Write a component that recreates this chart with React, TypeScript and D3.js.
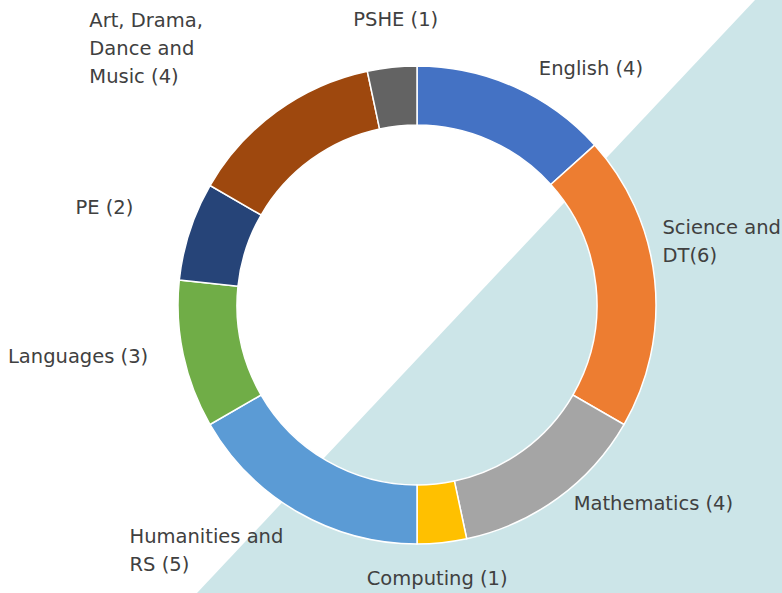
import React from "react";
import * as d3 from "d3";

const subjects = [
  "English",
  "Science and DT",
  "Mathematics",
  "Computing",
  "Humanities and RS",
  "Languages",
  "PE",
  "Art, Drama, Dance and Music",
  "PSHE",
];
const counts = [4, 6, 4, 1, 5, 3, 2, 4, 1];
const labelLines = [
  ["English (4)"],
  ["Science and", "DT(6)"],
  ["Mathematics (4)"],
  ["Computing (1)"],
  ["Humanities and", "RS (5)"],
  ["Languages (3)"],
  ["PE (2)"],
  ["Art, Drama,", "Dance and", "Music (4)"],
  ["PSHE (1)"],
];
const colors = [
  "#4472C4",
  "#ED7D31",
  "#A5A5A5",
  "#FFC000",
  "#5B9BD5",
  "#70AD47",
  "#264478",
  "#9E480E",
  "#636363",
];
// nudges from the arc-based label anchor to the left edge / vertical centre of each text block
const labelNudges: [number, number][] = [
  [10, 15],
  [-28, -35],
  [-5, -24],
  [-79, 0],
  [-150, 7],
  [-140, -6],
  [-80, -13],
  [-166, -34],
  [-35, -12],
];

const W = 782;
const H = 593;
const cx = 417;
const cy = 305;
const outerR = 239;
const innerR = 180;
const labelR = 275;
const lineH = 28;

export default function App() {
  const pie = d3
    .pie<number>()
    .sort(null)
    .value((d) => d)
    .startAngle(0)
    .endAngle(2 * Math.PI);
  const arcs = pie(counts);
  const arc = d3.arc<d3.PieArcDatum<number>>().innerRadius(innerR).outerRadius(outerR);

  return (
    <svg
      width={W}
      height={H}
      style={{ position: "absolute", left: 0, top: 0, background: "#ffffff" }}
    >
      <polygon points={`755,0 ${W},0 ${W},${H} 197,${H}`} fill="#cce5e8" />
      <g transform={`translate(${cx},${cy})`}>
        {arcs.map((a, i) => (
          <path
            key={subjects[i]}
            d={arc(a) || ""}
            fill={colors[i]}
            stroke="#ffffff"
            strokeWidth={1.5}
          />
        ))}
      </g>
      {arcs.map((a, i) => {
        const mid = (a.startAngle + a.endAngle) / 2;
        const bx = cx + labelR * Math.sin(mid) + labelNudges[i][0];
        const by = cy - labelR * Math.cos(mid) + labelNudges[i][1];
        const lines = labelLines[i];
        return (
          <text
            key={"l" + i}
            fontFamily="'DejaVu Sans', sans-serif"
            fontSize={19.5}
            fill="#404040"
          >
            {lines.map((ln, j) => (
              <tspan
                key={j}
                x={bx}
                y={by + (j - (lines.length - 1) / 2) * lineH}
                dominantBaseline="central"
              >
                {ln}
              </tspan>
            ))}
          </text>
        );
      })}
    </svg>
  );
}
